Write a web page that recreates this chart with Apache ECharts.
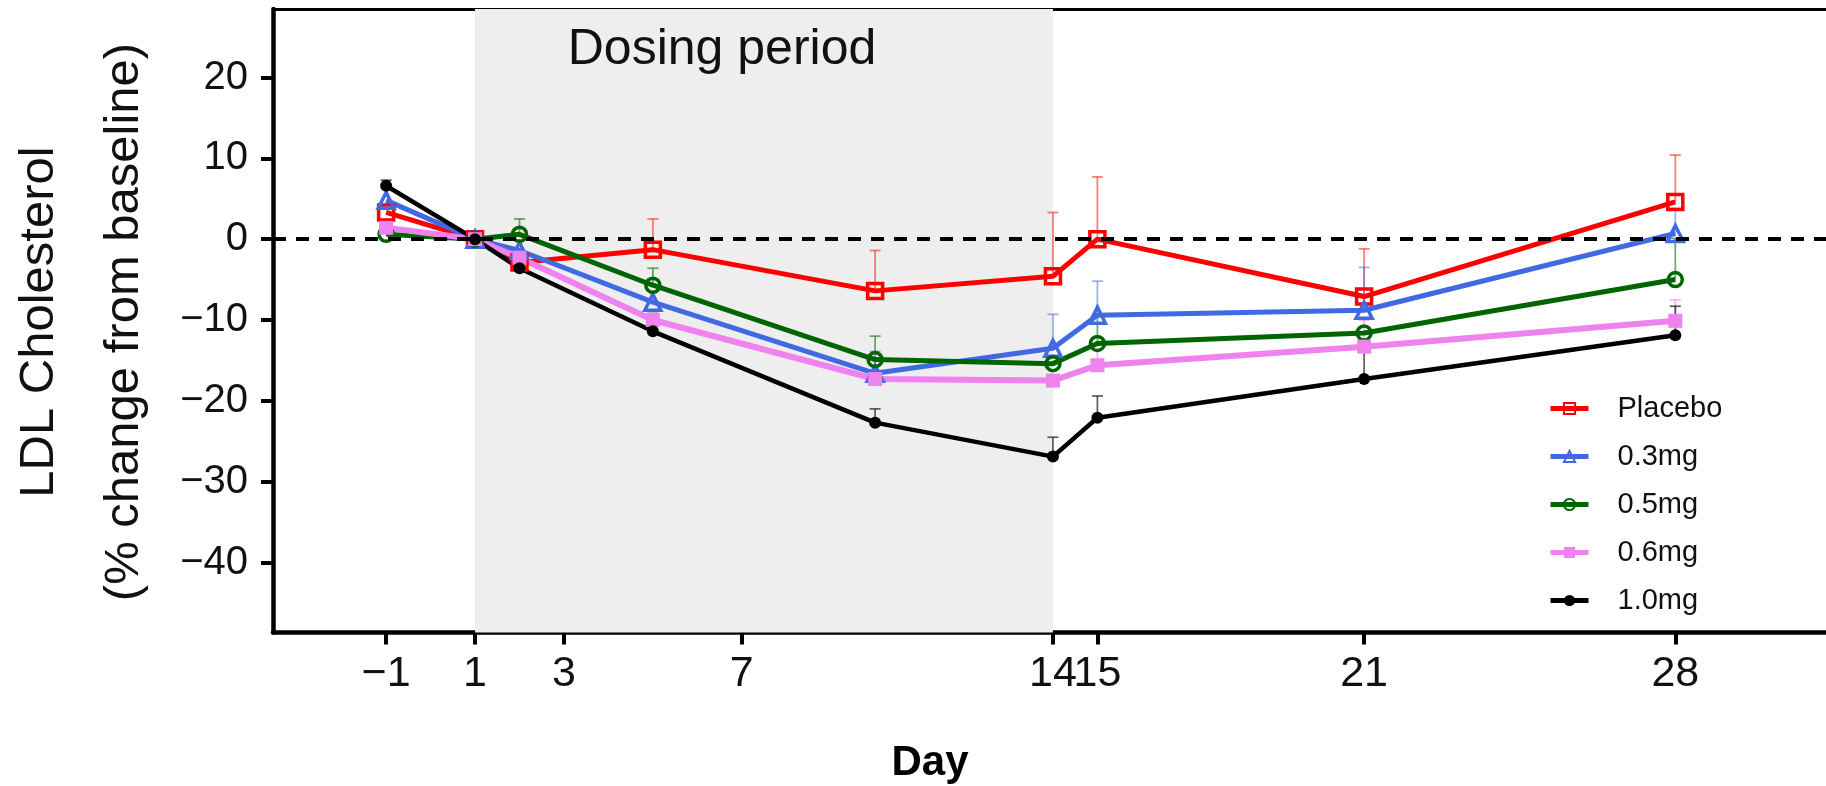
<!DOCTYPE html>
<html>
<head>
<meta charset="utf-8">
<script src="https://cdn.jsdelivr.net/npm/echarts@6/dist/echarts.min.js"></script>
<style>
  html, body { margin: 0; padding: 0; background: #fff; }
  #chart { width: 1826px; height: 786px; }
</style>
</head>
<body>
<div id="chart"></div>
<script>
const days = [-1, 1, 2, 5, 10, 14, 15, 21, 28]
const xTicks = [-1, 1, 3, 7, 14, 15, 21, 28]
const yTicks = [-40, -30, -20, -10, 0, 10, 20]
const dosingPeriod = [1, 14]

const seriesNames = ['Placebo', '0.3mg', '0.5mg', '0.6mg', '1.0mg']

// mean % change from baseline
const placebo = [3.3, 0, -2.9, -1.3, -6.4, -4.6, 0.0, -7.1, 4.6]
const dose03 = [4.8, 0, -1.4, -7.8, -16.6, -13.5, -9.4, -8.8, 0.7]
const dose05 = [0.6, 0, 0.6, -5.7, -14.9, -15.4, -12.9, -11.6, -5.0]
const dose06 = [1.4, 0, -2.3, -10.0, -17.3, -17.5, -15.6, -13.3, -10.1]
const dose10 = [6.6, 0, -3.6, -11.4, -22.7, -26.9, -22.1, -17.3, -11.9]

// upper end of error bars (null = not visible)
const placeboUpper = [null, null, null, 2.5, -1.4, 3.3, 7.7, -1.2, 10.4]
const dose03Upper = [null, null, null, null, -13.9, -9.3, -5.2, -3.5, 3.8]
const dose05Upper = [null, null, 2.5, -3.6, -12.0, null, -9.5, null, 0.1]
const dose06Upper = [null, null, null, null, -14.3, null, -13.7, -10.0, -7.5]
const dose10Upper = [7.3, null, null, -9.2, -21.0, -24.5, -19.4, -12.5, -8.3]

const FONT = "'Liberation Sans', Arial, Helvetica, sans-serif"

const styles = [
  { color: '#ff0000', bar: 'rgba(255, 0, 0, 0.5)', symbol: 'rect', size: 15, hollow: true, width: 5 },
  { color: '#4169e1', bar: 'rgba(65, 105, 225, 0.5)', symbol: 'triangle', size: 16, hollow: true, width: 5 },
  { color: '#006400', bar: 'rgba(0, 100, 0, 0.55)', symbol: 'circle', size: 14, hollow: true, width: 5 },
  { color: '#ee82ee', bar: 'rgba(238, 130, 238, 0.6)', symbol: 'rect', size: 14, hollow: false, width: 6 },
  { color: '#000000', bar: 'rgba(0, 0, 0, 0.6)', symbol: 'circle', size: 12, hollow: false, width: 4.5 }
]
const values = [placebo, dose03, dose05, dose06, dose10]
const uppers = [placeboUpper, dose03Upper, dose05Upper, dose06Upper, dose10Upper]

function minusSign(v) {
  return String(v).replace('-', '\u2212')
}

function buildErrorSeries(i) {
  const st = styles[i]
  const data = []
  days.forEach((d, k) => {
    if (uppers[i][k] !== null) data.push([d, values[i][k], uppers[i][k]])
  })
  return {
    type: 'custom',
    name: seriesNames[i] + ' error',
    z: 2,
    silent: true,
    encode: { x: 0, y: [1, 2] },
    data,
    renderItem: (params, api) => {
      const x = api.value(0)
      const mid = api.coord([x, api.value(1)])
      const top = api.coord([x, api.value(2)])
      const half = 5.5
      const s = { stroke: st.bar, lineWidth: 1.8 }
      return {
        type: 'group',
        children: [
          { type: 'line', shape: { x1: mid[0], y1: mid[1], x2: top[0], y2: top[1] }, style: s },
          { type: 'line', shape: { x1: top[0] - half, y1: top[1], x2: top[0] + half, y2: top[1] }, style: s }
        ]
      }
    }
  }
}

function buildLineSeries(i) {
  const st = styles[i]
  return {
    type: 'line',
    name: seriesNames[i],
    z: 3,
    symbol: st.symbol,
    symbolSize: st.size,
    showAllSymbol: true,
    lineStyle: { color: st.color, width: st.width },
    itemStyle: st.hollow
      ? { color: 'rgba(255,255,255,0)', borderColor: st.color, borderWidth: 3.5 }
      : { color: st.color, borderWidth: 0 },
    emphasis: { disabled: true },
    data: days.map((d, k) => [d, values[i][k]])
  }
}

const chart = echarts.init(document.getElementById('chart'), null, { renderer: 'canvas' })

chart.setOption({
  animation: false,
  textStyle: { fontFamily: FONT },
  grid: { left: 273, right: 0, top: 9, bottom: 153.5, containLabel: false },
  legend: {
    orient: 'vertical',
    left: 1543,
    top: 389,
    itemWidth: 38,
    itemHeight: 14,
    itemGap: 19,
    data: seriesNames,
    lineStyle: { width: 5 },
    textStyle: { fontFamily: FONT, fontSize: 29, color: '#111', padding: [0, 0, 0, 24] }
  },
  xAxis: [
    {
      type: 'value',
      min: -3.545,
      max: 31.39,
      axisLine: { show: true, onZero: false, lineStyle: { color: '#000', width: 4.5 } },
      axisTick: { show: true, length: 12, customValues: xTicks, lineStyle: { color: '#000', width: 4 } },
      axisLabel: {
        customValues: xTicks,
        margin: 20,
        fontSize: 43,
        fontFamily: FONT,
        color: '#111',
        formatter: minusSign
      },
      splitLine: { show: false }
    },
    {
      type: 'value',
      position: 'top',
      min: -3.545,
      max: 31.39,
      axisLine: { show: true, onZero: false, lineStyle: { color: '#000', width: 3 } },
      axisTick: { show: false },
      axisLabel: { show: false },
      splitLine: { show: false }
    }
  ],
  yAxis: {
    type: 'value',
    min: -48.66,
    max: 28.47,
    axisLine: { show: true, onZero: false, lineStyle: { color: '#000', width: 4.5 } },
    axisTick: { show: true, length: 12, customValues: yTicks, lineStyle: { color: '#000', width: 4 } },
    axisLabel: {
      customValues: yTicks,
      margin: 25,
      fontSize: 40,
      fontFamily: FONT,
      color: '#111',
      formatter: minusSign
    },
    splitLine: { show: false }
  },
  graphic: [
    {
      type: 'text', x: 39, y: 322, rotation: Math.PI / 2,
      style: { text: 'LDL Cholesterol', font: '49px ' + FONT, fill: '#111', align: 'center', verticalAlign: 'middle' }
    },
    {
      type: 'text', x: 124, y: 322, rotation: Math.PI / 2,
      style: { text: '(% change from baseline)', font: '49px ' + FONT, fill: '#111', align: 'center', verticalAlign: 'middle' }
    },
    {
      type: 'text', x: 930, y: 763,
      style: { text: 'Day', font: 'bold 42px ' + FONT, fill: '#000', align: 'center', verticalAlign: 'middle' }
    },
    {
      type: 'text', x: 722, y: 50, z: 10,
      style: { text: 'Dosing period', font: '50px ' + FONT, fill: '#111', align: 'center', verticalAlign: 'middle' }
    }
  ],
  series: [
    {
      type: 'line',
      name: 'background',
      z: 1,
      silent: true,
      data: [],
      markArea: {
        silent: true,
        itemStyle: { color: '#eeeeee' },
        data: [[{ xAxis: dosingPeriod[0] }, { xAxis: dosingPeriod[1] }]]
      },
      markLine: {
        silent: true,
        symbol: 'none',
        label: { show: false },
        lineStyle: { color: '#000', width: 4, type: [13, 10] },
        data: [{ yAxis: 0 }]
      }
    },
    ...styles.map((_, i) => buildErrorSeries(i)),
    ...styles.map((_, i) => buildLineSeries(i))
  ]
})
</script>
</body>
</html>
